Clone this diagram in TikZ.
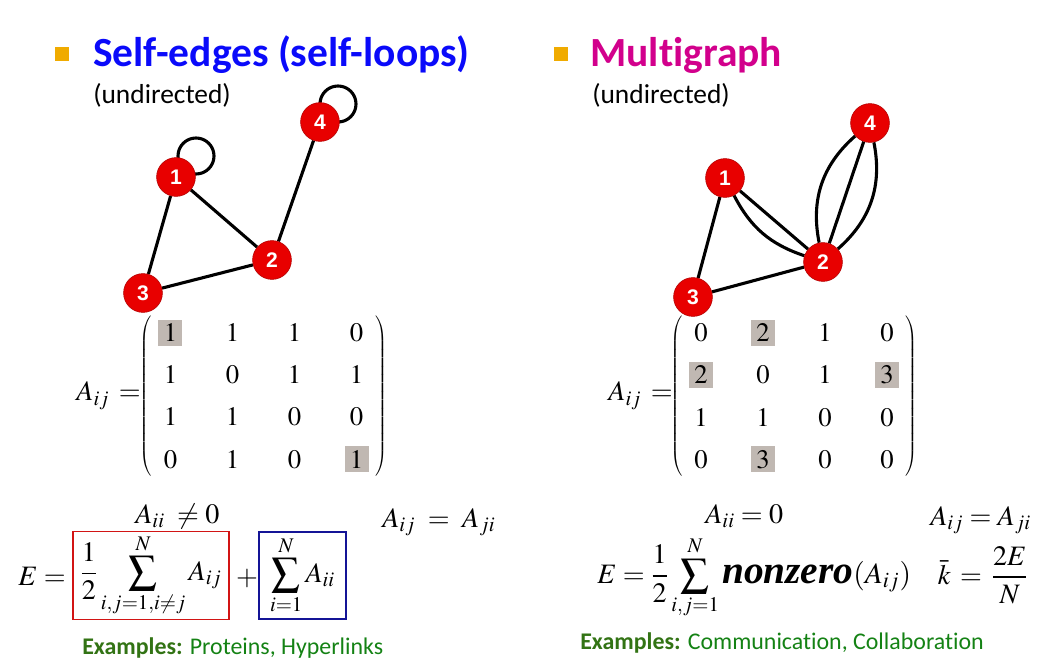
\documentclass[tikz,border=0pt]{standalone}
\usepackage{amsmath}
\usepackage{mathptmx}
\usepackage[no-math]{fontspec}
\setmainfont{Carlito}[Ligatures={NoCommon}]
\newfontfamily\numfont{Liberation Sans}
\newfontface\nzfont{Liberation Serif Bold Italic}
\usetikzlibrary{matrix}
\usetikzlibrary{backgrounds}
\definecolor{bulletorange}{RGB}{240,171,0}
\definecolor{titleblue}{RGB}{10,10,250}
\definecolor{titlemagenta}{RGB}{210,0,140}
\definecolor{nodered}{RGB}{232,0,0}
\definecolor{hlgray}{RGB}{192,184,178}
\definecolor{boxred}{RGB}{210,20,20}
\definecolor{boxblue}{RGB}{20,20,150}
\definecolor{exgreen}{RGB}{20,130,20}
\definecolor{exdark}{RGB}{50,115,20}

\begin{document}
\begin{tikzpicture}[x=0.025cm, y=-0.025cm,
	vertex/.style = {circle, fill=nodered, draw=red!70!black, line width=0.4pt, minimum size=0.97cm, inner sep=0pt, text=white, font=\numfont\bfseries\fontsize{15}{15}\selectfont},
	link/.style = {line width=2.2pt, color=black},
	sqbullet/.style = {fill=bulletorange, minimum size=0.36cm, inner sep=0pt},
	heading/.style = {anchor=base west, inner sep=0pt, font=\bfseries\fontsize{29.5}{30}\selectfont},
	subhead/.style = {anchor=base west, inner sep=0pt, font=\fontsize{19.5}{20}\selectfont},
	adj/.style = {matrix of math nodes, left delimiter=(, right delimiter=), column sep=0.95cm, row sep=0.4cm,
		nodes={minimum width=0.6cm, minimum height=0.65cm, inner sep=0pt, font=\fontsize{19}{19}\selectfont}},
	hl/.style = {fill=hlgray},
	eq/.style = {inner sep=0pt, font=\fontsize{20}{20}\selectfont},
	sumbox/.style = {draw, line width=0.9pt, minimum height=2.175cm, inner sep=2pt, font=\fontsize{20}{20}\selectfont},
	examples/.style = {anchor=base west, inner sep=0pt, text=exgreen, font=\fontsize{17}{17}\selectfont}
]
\useasboundingbox (0,0) rectangle (1064,661);

% Left: self-edges
\node[sqbullet] (bulA) at (62,54) {};
\node[heading, text=titleblue] (headA) at (93,67) {Self-edges (self-loops)};
\node[subhead] (subA) at (93,104) {(undirected)};

\node[vertex] (a1) at (176,177) {1};
\node[vertex] (a2) at (272,260) {2};
\node[vertex] (a3) at (143,293) {3};
\node[vertex] (a4) at (320,122) {4};

\begin{scope}[on background layer]
\draw[link] (a1) -- (a2) (a1) -- (a3) (a3) -- (a2) (a2) -- (a4);
% the two self-loops
\draw[link] ([shift={(20,-21)}]a1.center) circle[radius=0.45cm];
\draw[link] ([shift={(18,-18)}]a4.center) circle[radius=0.45cm];
\end{scope}

\node[eq, anchor=base east] (labA) at (141,401) {$A_{ij}\,=$};
\matrix[adj] (MA) at (263.5,396) {
	|[hl]| 1 & 1 & 1 & 0 \\
	1 & 0 & 1 & 1 \\
	1 & 1 & 0 & 0 \\
	0 & 1 & 0 & |[hl]| 1 \\
};

\node[eq, anchor=base west] (neqA) at (135,523) {$A_{ii}\;\neq 0$};
\node[eq, anchor=base west] (symA) at (382,527) {$A_{ij}\;=\;A_{ji}$};
\node[eq, anchor=base west] (EA) at (18,585) {$E =$};
\node[sumbox, draw=boxred, minimum width=3.9cm] (boxA) at (151,575.5) {$\displaystyle\frac{1}{2}\sum_{i,j=1,i\neq j}^{N} A_{ij}$};
\node[eq] (plusA) at (247,578) {$+$};
\node[sumbox, draw=boxblue, minimum width=2.175cm] (boxB) at (302.5,575.5) {$\displaystyle\sum_{i=1}^{N} A_{ii}$};

\node[examples] (exA) at (82,654) {{\bfseries\color{exdark}Examples:} Proteins, Hyperlinks};

% Right: multigraph
\node[sqbullet] (bulB) at (561,54) {};
\node[heading, text=titlemagenta] (headB) at (590,67) {Multigraph};
\node[subhead] (subB) at (592,104) {(undirected)};

\node[vertex] (b1) at (725,178) {1};
\node[vertex] (b2) at (823,262) {2};
\node[vertex] (b3) at (693,297) {3};
\node[vertex] (b4) at (870,123) {4};

\begin{scope}[on background layer]
\draw[link] (b1) -- (b3) (b3) -- (b2) (b1) -- (b2) (b2) -- (b4);
\draw[link] (b1) to[bend right=22] (b2);
\draw[link] (b2) to[bend left=30] (b4);
\draw[link] (b2) to[bend right=30] (b4);
\end{scope}

\node[eq, anchor=base east] (labB) at (673,401) {$A_{ij}\,=$};
\matrix[adj] (MB) at (794,396) {
	0 & |[hl]| 2 & 1 & 0 \\
	|[hl]| 2 & 0 & 1 & |[hl]| 3 \\
	1 & 1 & 0 & 0 \\
	0 & |[hl]| 3 & 0 & 0 \\
};

\node[eq, anchor=base west] (zeroB) at (705,523) {$A_{ii} = 0$};
\node[eq, anchor=base west] (symB) at (930,525) {$A_{ij} = A_{ji}$};
\node[eq, anchor=base west] (EB) at (597,583) {$E = \dfrac{1}{2}\displaystyle\sum_{i,j=1}^{N}\mbox{\nzfont\fontsize{28}{28}\selectfont nonzero}\mbox{\fontsize{21}{21}\selectfont$(A_{ij})$}$};
\node[eq] (kbarB) at (983,575) {$\bar{k}\,=\,\dfrac{2E}{N}$};

\node[examples] (exB) at (580,649) {{\bfseries\color{exdark}Examples:} Communication, Collaboration};

\end{tikzpicture}
\end{document}
